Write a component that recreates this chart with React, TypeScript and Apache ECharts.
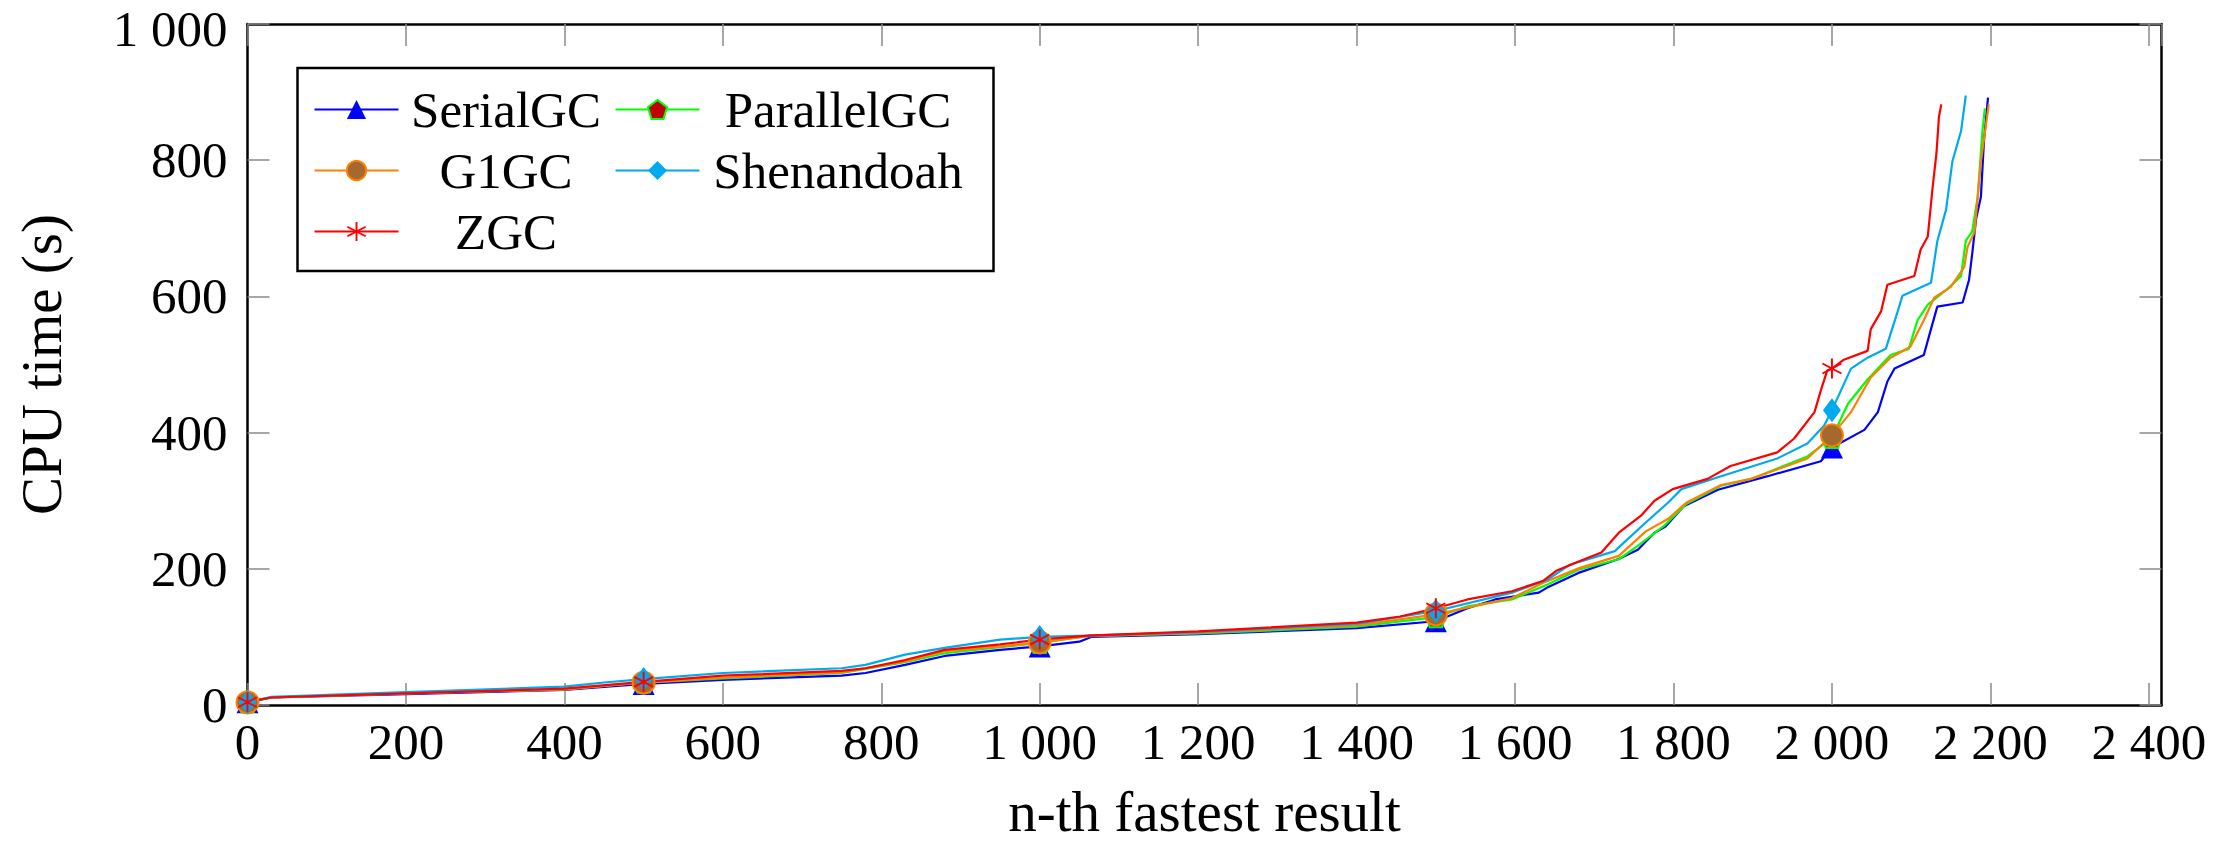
import { useEffect, useRef } from "react";
import * as echarts from "echarts";

const FONT = "'Liberation Serif', 'DejaVu Serif', serif";

const SERIES_NAMES = ["SerialGC", "ParallelGC", "G1GC", "Shenandoah", "ZGC"];
const SECOND_COLUMN = ["ParallelGC", "Shenandoah"];
const MARK_X = [0, 500, 1000, 1500, 2000];

const X_MIN = 0;
const X_MAX = 2416;
const X_STEP = 200;
const X_LAST_LABEL = 2400;
const Y_MIN = 0;
const Y_MAX = 1000;
const Y_STEP = 200;

const serialX = [0, 30, 200, 400, 500, 600, 750, 780, 830, 880, 950, 1000, 1050, 1065, 1200, 1400, 1500, 1540, 1575, 1630, 1640, 1680, 1730, 1755, 1776, 1790, 1813, 1856, 1919, 1986, 2000, 2041, 2058, 2070, 2079, 2116, 2125, 2133, 2165, 2173, 2177, 2182, 2188, 2192, 2197];
const serialY = [4, 11, 16, 22, 31, 37, 43, 47, 59, 72, 81, 86, 93, 100, 104, 113, 123, 142, 155, 165, 172, 194, 214, 228, 253, 262, 292, 316, 336, 358, 378, 404, 430, 475, 494, 514, 552, 585, 591, 624, 662, 714, 746, 830, 892];

const parallelX = [0, 30, 200, 400, 500, 600, 750, 830, 880, 950, 1000, 1060, 1200, 1400, 1500, 1540, 1596, 1641, 1681, 1731, 1754, 1788, 1816, 1860, 1898, 1969, 2000, 2020, 2045, 2074, 2097, 2108, 2121, 2146, 2163, 2169, 2177, 2184, 2190, 2193];
const parallelY = [4, 11, 17, 23, 33, 39, 47, 63, 76, 85, 91, 101, 105, 115, 129, 145, 155, 177, 199, 214, 233, 263, 295, 322, 332, 365, 392, 442, 478, 514, 523, 565, 588, 611, 630, 682, 695, 746, 843, 876];

const g1X = [0, 30, 200, 400, 500, 600, 750, 830, 880, 950, 1000, 1060, 1200, 1400, 1500, 1596, 1635, 1681, 1731, 1765, 1793, 1816, 1860, 1898, 1969, 2000, 2024, 2049, 2074, 2099, 2116, 2129, 2150, 2167, 2171, 2180, 2188, 2198];
const g1Y = [4, 11, 17, 23, 33, 40, 48, 64, 79, 86, 92, 101, 106, 117, 133, 157, 179, 201, 219, 255, 273, 297, 323, 332, 362, 396, 430, 481, 510, 526, 565, 598, 614, 643, 672, 695, 798, 882];

const shenX = [0, 30, 200, 400, 450, 500, 600, 750, 780, 830, 880, 950, 1000, 1060, 1200, 1400, 1500, 1596, 1641, 1669, 1726, 1737, 1765, 1793, 1810, 1860, 1931, 1969, 1990, 2000, 2024, 2045, 2068, 2083, 2089, 2125, 2133, 2144, 2152, 2163, 2169];
const shenY = [4, 12, 19, 27, 33, 38, 47, 54, 59, 74, 84, 96, 100, 102, 107, 119, 138, 165, 184, 206, 226, 238, 268, 297, 317, 336, 362, 384, 410, 433, 494, 510, 523, 578, 601, 620, 681, 727, 798, 843, 895];

const zgcX = [0, 30, 200, 400, 500, 600, 750, 780, 830, 880, 950, 1000, 1061, 1200, 1400, 1455, 1500, 1540, 1596, 1635, 1652, 1681, 1709, 1731, 1759, 1776, 1799, 1843, 1872, 1931, 1952, 1978, 1986, 1994, 2000, 2015, 2045, 2049, 2062, 2070, 2104, 2112, 2121, 2127, 2132, 2135, 2138];
const zgcY = [4, 11, 17, 24, 34, 43, 50, 54, 66, 81, 89, 96, 102, 108, 121, 130, 142, 155, 167, 182, 197, 211, 224, 253, 278, 300, 317, 332, 351, 371, 391, 430, 462, 491, 494, 507, 520, 552, 578, 617, 630, 669, 688, 759, 811, 863, 882];

const PENTAGON = "path://M0 -10 L9.51 -3.09 L5.88 8.09 L-5.88 8.09 L-9.51 -3.09 Z";
const ASTERISK =
  "path://M-0.9 10 L0.9 10 L0.9 -10 L-0.9 -10 Z M8.21 5.78 L9.11 4.22 L-8.21 -5.78 L-9.11 -4.22 Z M-9.11 4.22 L-8.21 5.78 L9.11 -4.22 L8.21 -5.78 Z";

function buildData(xs: number[], ys: number[]) {
  return xs.map((x, i) =>
    MARK_X.includes(x) ? [x, ys[i]] : { value: [x, ys[i]], symbol: "none" }
  );
}

function fmtNum(v: number): string {
  if (v >= 1000) {
    const th = Math.floor(v / 1000);
    const rest = String(v % 1000).padStart(3, "0");
    return th + " " + rest;
  }
  return String(v);
}

export default function App() {
  const ref = useRef<HTMLDivElement>(null);

  useEffect(() => {
    if (!ref.current) return;
    const chart = echarts.init(ref.current, null, { renderer: "svg" });

    const tick = { show: true, inside: true, length: 22, lineStyle: { color: "#8a8a8a", width: 1.5 } };
    const axisLine = { show: true, onZero: false, lineStyle: { color: "#000", width: 2.5 } };
    const labelStyle = { fontFamily: FONT, fontSize: 51, lineHeight: 40, color: "#000" };

    const mkSeries = (
      name: string,
      xs: number[],
      ys: number[],
      lineColor: string,
      symbol: string,
      symbolSize: number | number[],
      fill: string,
      border: string,
      borderWidth: number
    ) => ({
      name,
      type: "line",
      data: buildData(xs, ys),
      symbol,
      symbolSize,
      showSymbol: true,
      showAllSymbol: true,
      color: lineColor,
      lineStyle: { color: lineColor, width: 2.2 },
      itemStyle: { color: fill, borderColor: border, borderWidth },
      emphasis: { disabled: true },
      xAxisIndex: 0,
      yAxisIndex: 0,
    });

    chart.setOption({
      animation: false,
      backgroundColor: "#fff",
      grid: {
        left: 247.5,
        top: 24,
        width: 1914,
        height: 681,
        containLabel: false,
        outerBoundsMode: "none",
      },
      legend: {
        data: SERIES_NAMES,
        orient: "horizontal",
        left: 297.5,
        top: 68,
        width: 670,
        itemWidth: 84,
        itemHeight: 24,
        itemGap: 6,
        padding: [14, 22, 12, 16],
        borderColor: "#000",
        borderWidth: 2.5,
        backgroundColor: "#fff",
        selectedMode: false,
        formatter: (name: string) => `{${SECOND_COLUMN.includes(name) ? "b" : "a"}|${name}}`,
        textStyle: {
          fontFamily: FONT,
          fontSize: 51,
          lineHeight: 55,
          color: "#000",
          rich: {
            a: { width: 205, align: "center", fontFamily: FONT, fontSize: 51, lineHeight: 55, color: "#000" },
            b: { width: 267, align: "center", fontFamily: FONT, fontSize: 51, lineHeight: 55, color: "#000" },
          },
        },
      },
      xAxis: [
        {
          type: "value",
          position: "bottom",
          min: X_MIN,
          max: X_MAX,
          interval: X_STEP,
          axisLine,
          axisTick: tick,
          splitLine: { show: false },
          axisLabel: {
            ...labelStyle,
            margin: 17,
            showMaxLabel: false,
            formatter: (v: number) => (v % X_STEP === 0 && v <= X_LAST_LABEL ? fmtNum(v) : ""),
          },
          name: "n-th fastest result",
          nameLocation: "middle",
          nameGap: 78,
          nameTextStyle: { fontFamily: FONT, fontSize: 57, color: "#000" },
        },
        {
          type: "value",
          position: "top",
          min: X_MIN,
          max: X_MAX,
          interval: X_STEP,
          axisLine,
          axisTick: tick,
          splitLine: { show: false },
          axisLabel: { show: false },
        },
      ],
      yAxis: [
        {
          type: "value",
          position: "left",
          min: Y_MIN,
          max: Y_MAX,
          interval: Y_STEP,
          axisLine,
          axisTick: tick,
          splitLine: { show: false },
          axisLabel: {
            ...labelStyle,
            margin: 20,
            formatter: (v: number) => (v === Y_MAX ? `{top|${fmtNum(v)}}` : fmtNum(v)),
            rich: {
              top: { fontFamily: FONT, fontSize: 51, color: "#000", padding: [9, 0, 0, 0] },
            },
          },
          name: "CPU time (s)",
          nameLocation: "middle",
          nameGap: 178,
          nameTextStyle: { fontFamily: FONT, fontSize: 57, color: "#000" },
        },
        {
          type: "value",
          position: "right",
          min: Y_MIN,
          max: Y_MAX,
          interval: Y_STEP,
          axisLine,
          axisTick: tick,
          splitLine: { show: false },
          axisLabel: { show: false },
        },
      ],
      series: [
        mkSeries("SerialGC", serialX, serialY, "#0000ff", "triangle", 22, "#0000ff", "#0000ff", 0),
        mkSeries("ParallelGC", parallelX, parallelY, "#00ff00", PENTAGON, 20, "#c00000", "#00ff00", 2),
        mkSeries("G1GC", g1X, g1Y, "#ff8000", "circle", 22, "#a5682f", "#ff8000", 2),
        mkSeries("Shenandoah", shenX, shenY, "#00aaee", "diamond", [18, 24], "#00aaee", "#00aaee", 0),
        mkSeries("ZGC", zgcX, zgcY, "#ff0000", ASTERISK, 20, "#ff0000", "#ff0000", 0),
      ],
    });

    return () => chart.dispose();
  }, []);

  return (
    <div
      ref={ref}
      style={{ position: "fixed", left: 0, top: 0, width: 2236, height: 843, background: "#fff" }}
    />
  );
}
